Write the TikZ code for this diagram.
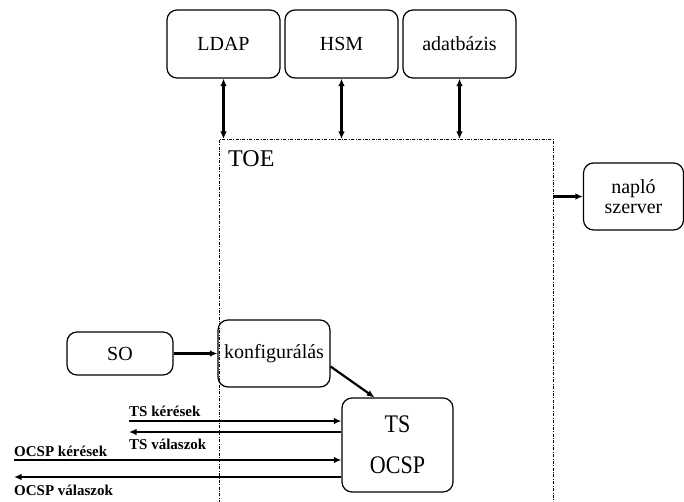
\documentclass[tikz,border=0pt]{standalone}
\usepackage{fontspec}
\setmainfont{Liberation Serif}
\usetikzlibrary{arrows.meta}
\tikzset{
  box/.style={draw, line width=1.2pt, rounded corners=10pt, align=center, font=\fontsize{20}{23}\selectfont, inner sep=0pt},
  conn/.style={line width=2.2pt, -{Latex[length=7.5pt,width=6.5pt]}},
  biconn/.style={line width=2.2pt, {Latex[length=7.5pt,width=6.5pt]}-{Latex[length=7.5pt,width=6.5pt]}},
  toeline/.style={line width=0.8pt, dash pattern=on 3pt off 1.5pt on 0.8pt off 1.5pt},
  lbl/.style={font=\bfseries\fontsize{15}{17}\selectfont, anchor=base west, inner sep=0pt}
}
\begin{document}
\begin{tikzpicture}[x=1pt,y=-1pt]
\useasboundingbox (0,0) rectangle (684,502);
% top boxes
\node[box, minimum width=113pt, minimum height=68pt] (ldap) at (223.5,44) {LDAP};
\node[box, minimum width=113pt, minimum height=68pt] (hsm) at (341.5,44) {HSM};
\node[box, minimum width=113pt, minimum height=68pt] (db) at (459.5,44) {adatbázis};
% TOE region
\coordinate (toeBL) at (219,510);
\coordinate (toeTL) at (219,139);
\coordinate (toeTR) at (553,139);
\coordinate (toeBR) at (553,510);
\draw[toeline] (toeBL) -- (toeTL) -- (toeTR) -- (toeBR);
\node[font=\fontsize{24}{26}\selectfont, anchor=base west, inner sep=0pt] (toe) at (228,167) {TOE};
\coordinate (tldap) at (ldap.south |- toeTL);
\coordinate (thsm) at (hsm.south |- toeTL);
\coordinate (tdb) at (db.south |- toeTL);
\draw[biconn] (ldap.south) -- (tldap);
\draw[biconn] (hsm.south) -- (thsm);
\draw[biconn] (db.south) -- (tdb);
% naplo
\node[box, minimum width=100pt, minimum height=67pt, font=\fontsize{20}{20}\selectfont] (naplo) at (633.5,196.5) {napló\\szerver};
\coordinate (tnaplo) at (553,196.5);
\draw[conn] (tnaplo) -- (naplo.west);
% SO and konfiguralas
\node[box, minimum width=106pt, minimum height=43pt] (so) at (120,353.5) {SO};
\node[box, minimum width=112pt, minimum height=67pt] (konf) at (274,353.5) {konfigurálás};
\draw[conn] (so.east) -- (konf.west);
% TS OCSP
\node[box, minimum width=111pt, minimum height=94pt, font=\fontsize{22}{24}\selectfont] (ts) at (397.5,445) {\scalebox{1}[1.15]{TS}\\[17pt]\scalebox{1}[1.15]{OCSP}};
\draw[conn] ([yshift=-13pt]konf.east) -- ([xshift=33pt]ts.north west);
% request/response arrows
\coordinate (tsk) at (129,421);
\coordinate (tsv) at (129,432);
\coordinate (ok) at (14,460);
\coordinate (ov) at (14,477);
\draw[conn] (tsk) -- (tsk -| ts.west);
\draw[conn] (tsv -| ts.west) -- (tsv);
\draw[conn] (ok) -- (ok -| ts.west);
\draw[conn] (ov -| ts.west) -- (ov);
\node[lbl] (l1) at (129,416) {TS kérések};
\node[lbl] (l2) at (129,449) {TS válaszok};
\node[lbl] (l3) at (14,456) {OCSP kérések};
\node[lbl] (l4) at (14,495) {OCSP válaszok};
\end{tikzpicture}
\end{document}
